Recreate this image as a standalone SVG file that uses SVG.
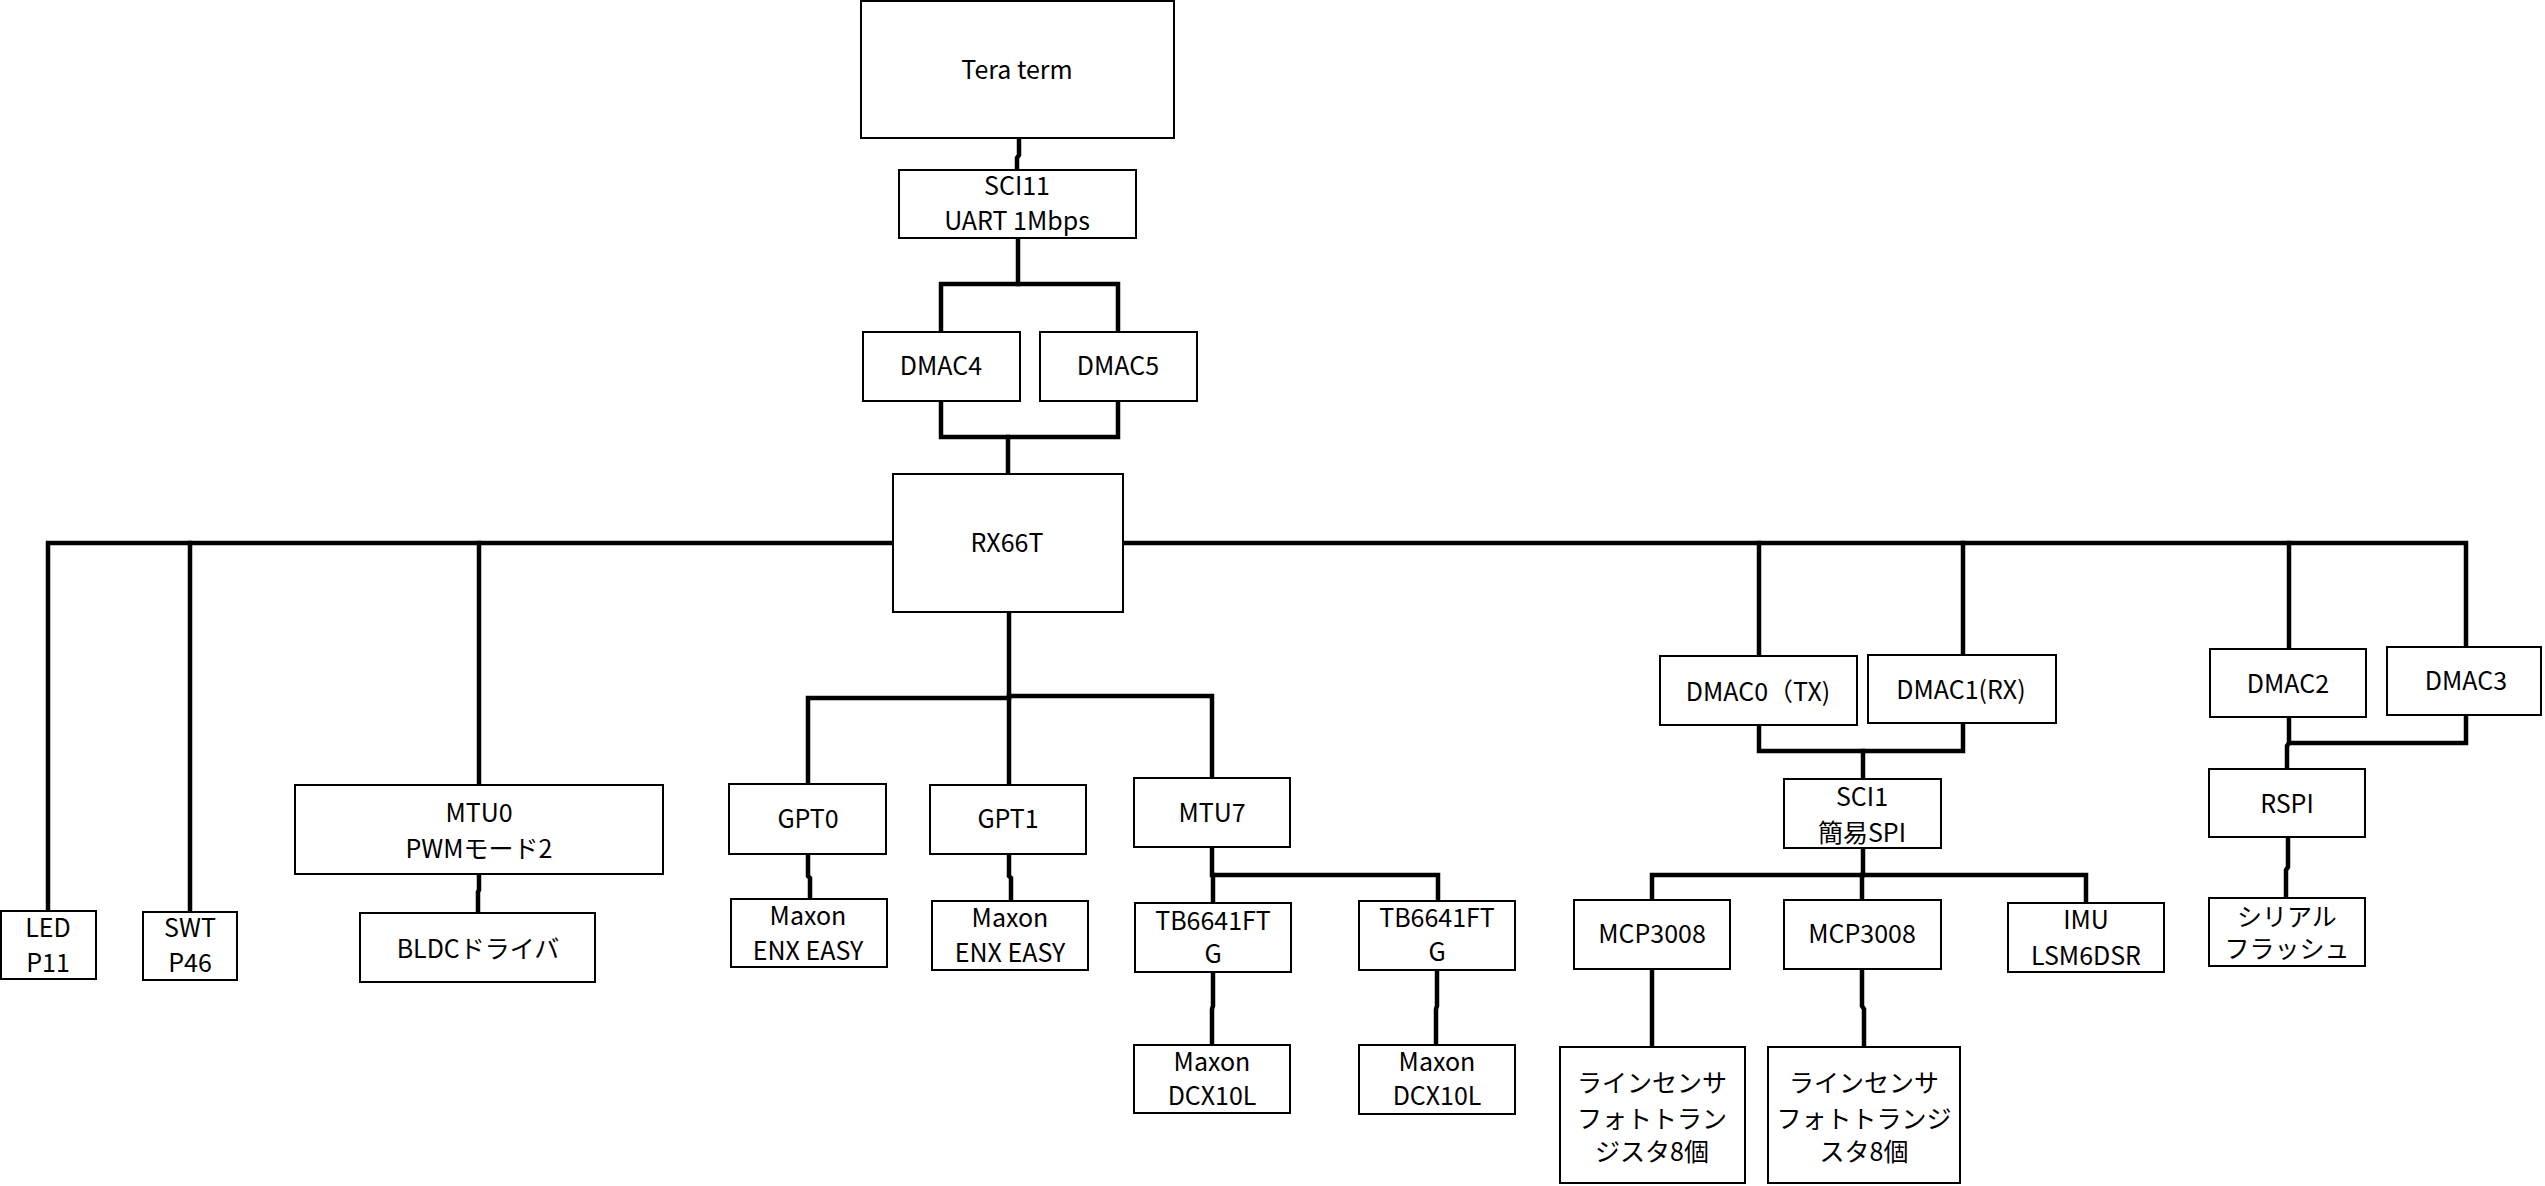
<svg xmlns="http://www.w3.org/2000/svg" width="2545" height="1186" viewBox="0 0 2545 1186">
<style>
.box{fill:#fff;stroke:#000;stroke-width:2}
.t{font-family:"Noto Sans CJK JP","Noto Sans",sans-serif;font-size:25px;fill:#000;text-anchor:middle}
.c{fill:none;stroke:#000;stroke-width:4.5;stroke-linejoin:miter;stroke-linecap:square}
</style>
<rect width="2545" height="1186" fill="#fff"/>
<g id="connectors">
<path class="c" d="M1019 139 V155 L1017 158 V169"/>
<path class="c" d="M1018 239 V284"/>
<path class="c" d="M941 331 V284 H1118 V331"/>
<path class="c" d="M941 402 V437 H1118 V402"/>
<path class="c" d="M1008 437 V473"/>
<path class="c" d="M892 543 H48 V909"/>
<path class="c" d="M190 543 V911"/>
<path class="c" d="M479 543 V784"/>
<path class="c" d="M1124 543 H2466 V646"/>
<path class="c" d="M1759 543 V655"/>
<path class="c" d="M1963 543 V654"/>
<path class="c" d="M2289 543 V648"/>
<path class="c" d="M1009 613 V783"/>
<path class="c" d="M808 783 V698 H1009"/>
<path class="c" d="M1009 696 H1212 V777"/>
<path class="c" d="M808 855 V876 L810 878 V898"/>
<path class="c" d="M1009 855 V876 L1011 878 V900"/>
<path class="c" d="M479 875 V890 L478 892 V912"/>
<path class="c" d="M1212 848 V875 H1438 V900"/>
<path class="c" d="M1213 875 V902"/>
<path class="c" d="M1213 973 V1006 L1212 1009 V1044"/>
<path class="c" d="M1437 971 V1006 L1436 1009 V1044"/>
<path class="c" d="M1759 726 V751 H1963 V724"/>
<path class="c" d="M1863 751 V778"/>
<path class="c" d="M1863 849 V875"/>
<path class="c" d="M1652 899 V875 H2086 V902"/>
<path class="c" d="M1862 875 V899"/>
<path class="c" d="M1652 970 V1046"/>
<path class="c" d="M1862 970 V1006 L1864 1009 V1046"/>
<path class="c" d="M2289 718 V743 H2466 V716"/>
<path class="c" d="M2289 743 L2287 746 V768"/>
<path class="c" d="M2288 838 V867 L2286 870 V897"/>
</g>
<g id="tera"><rect class="box" x="861" y="1" width="313" height="137"/><text class="t" x="1017" y="79">Tera term</text></g>
<g id="sci11"><rect class="box" x="899" y="170" width="237" height="68"/><text class="t" x="1017" y="195">SCI11</text><text class="t" x="1017" y="230">UART 1Mbps</text></g>
<g id="dmac4"><rect class="box" x="863" y="332" width="157" height="69"/><text class="t" x="941" y="375">DMAC4</text></g>
<g id="dmac5"><rect class="box" x="1040" y="332" width="157" height="69"/><text class="t" x="1118" y="375">DMAC5</text></g>
<g id="rx66t"><rect class="box" x="893" y="474" width="230" height="138"/><text class="t" x="1007" y="552">RX66T</text></g>
<g id="led"><rect class="box" x="1" y="911" width="95" height="68"/><text class="t" x="48" y="937">LED</text><text class="t" x="48" y="972">P11</text></g>
<g id="swt"><rect class="box" x="143" y="912" width="94" height="68"/><text class="t" x="190" y="937">SWT</text><text class="t" x="190" y="972">P46</text></g>
<g id="mtu0"><rect class="box" x="295" y="785" width="368" height="89"/><text class="t" x="479" y="822">MTU0</text><text class="t" x="479" y="858">PWMモード2</text></g>
<g id="bldc"><rect class="box" x="360" y="913" width="235" height="69"/><text class="t" x="478" y="958">BLDCドライバ</text></g>
<g id="gpt0"><rect class="box" x="729" y="784" width="157" height="70"/><text class="t" x="808" y="828">GPT0</text></g>
<g id="enx0"><rect class="box" x="731" y="899" width="156" height="68"/><text class="t" x="808" y="925">Maxon</text><text class="t" x="808" y="960">ENX EASY</text></g>
<g id="gpt1"><rect class="box" x="930" y="785" width="156" height="69"/><text class="t" x="1008" y="828">GPT1</text></g>
<g id="enx1"><rect class="box" x="932" y="901" width="156" height="69"/><text class="t" x="1010" y="927">Maxon</text><text class="t" x="1010" y="962">ENX EASY</text></g>
<g id="mtu7"><rect class="box" x="1134" y="778" width="156" height="69"/><text class="t" x="1212" y="822">MTU7</text></g>
<g id="tb1"><rect class="box" x="1135" y="903" width="156" height="69"/><text class="t" x="1213" y="930">TB6641FT</text><text class="t" x="1213" y="963">G</text></g>
<g id="tb2"><rect class="box" x="1359" y="901" width="156" height="69"/><text class="t" x="1437" y="927">TB6641FT</text><text class="t" x="1437" y="961">G</text></g>
<g id="dcx1"><rect class="box" x="1134" y="1045" width="156" height="68"/><text class="t" x="1212" y="1071">Maxon</text><text class="t" x="1212" y="1105">DCX10L</text></g>
<g id="dcx2"><rect class="box" x="1359" y="1045" width="156" height="69"/><text class="t" x="1437" y="1071">Maxon</text><text class="t" x="1437" y="1105">DCX10L</text></g>
<g id="dmac0"><rect class="box" x="1660" y="656" width="197" height="69"/><text class="t" x="1758" y="701">DMAC0（TX)</text></g>
<g id="dmac1"><rect class="box" x="1868" y="655" width="188" height="68"/><text class="t" x="1961" y="699">DMAC1(RX)</text></g>
<g id="sci1"><rect class="box" x="1784" y="779" width="157" height="69"/><text class="t" x="1862" y="806">SCI1</text><text class="t" x="1862" y="842">簡易SPI</text></g>
<g id="mcp1"><rect class="box" x="1574" y="900" width="156" height="69"/><text class="t" x="1652" y="943">MCP3008</text></g>
<g id="mcp2"><rect class="box" x="1784" y="900" width="157" height="69"/><text class="t" x="1862" y="943">MCP3008</text></g>
<g id="imu"><rect class="box" x="2008" y="903" width="156" height="69"/><text class="t" x="2086" y="929">IMU</text><text class="t" x="2086" y="965">LSM6DSR</text></g>
<g id="ls1"><rect class="box" x="1560" y="1047" width="185" height="136"/><text class="t" x="1652" y="1092">ラインセンサ</text><text class="t" x="1652" y="1128">フォトトラン</text><text class="t" x="1652" y="1161">ジスタ8個</text></g>
<g id="ls2"><rect class="box" x="1768" y="1047" width="192" height="136"/><text class="t" x="1864" y="1092">ラインセンサ</text><text class="t" x="1864" y="1128">フォトトランジ</text><text class="t" x="1864" y="1161">スタ8個</text></g>
<g id="dmac2"><rect class="box" x="2210" y="649" width="156" height="68"/><text class="t" x="2288" y="693">DMAC2</text></g>
<g id="dmac3"><rect class="box" x="2387" y="647" width="154" height="68"/><text class="t" x="2466" y="690">DMAC3</text></g>
<g id="rspi"><rect class="box" x="2209" y="769" width="156" height="68"/><text class="t" x="2287" y="813">RSPI</text></g>
<g id="flash"><rect class="box" x="2209" y="898" width="156" height="68"/><text class="t" x="2287" y="926">シリアル</text><text class="t" x="2287" y="958">フラッシュ</text></g>
</svg>
